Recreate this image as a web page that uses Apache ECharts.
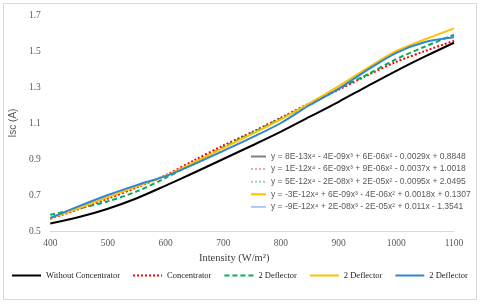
<!DOCTYPE html>
<html>
<head>
<meta charset="utf-8">
<script src="https://cdn.jsdelivr.net/npm/echarts@6/dist/echarts.min.js"></script>
<style>html,body{margin:0;padding:0;background:#fff}#c{width:480px;height:304px}</style>
</head>
<body>
<div id="c"></div>
<script>
// Intensity (W/m²)
const intensity = [400, 450, 500, 550, 600, 650, 700, 750, 800, 850, 900, 950, 1000, 1050, 1100];
// Isc (A)
const withoutConcentrator = [0.542, 0.578, 0.624, 0.682, 0.752, 0.825, 0.900, 0.975, 1.052, 1.135, 1.218, 1.305, 1.390, 1.470, 1.546];
const concentrator        = [0.568, 0.622, 0.680, 0.742, 0.810, 0.894, 0.975, 1.050, 1.130, 1.210, 1.285, 1.365, 1.440, 1.500, 1.557];
const deflectorA          = [0.590, 0.625, 0.665, 0.720, 0.795, 0.880, 0.965, 1.045, 1.125, 1.205, 1.290, 1.370, 1.455, 1.525, 1.590];
const deflectorB          = [0.570, 0.628, 0.688, 0.748, 0.806, 0.882, 0.960, 1.040, 1.120, 1.210, 1.305, 1.405, 1.500, 1.565, 1.626];
const deflectorC          = [0.572, 0.638, 0.700, 0.755, 0.805, 0.872, 0.945, 1.020, 1.100, 1.200, 1.290, 1.395, 1.490, 1.550, 1.576];

// y tick labels shown (every 0.2 from 0.5)
const yTickLabels = ['0.5', '0.7', '0.9', '1.1', '1.3', '1.5', '1.7'];

const seriesLabels = ['Without Concentrator', 'Concentrator', '2 Deflector', '2 Deflector', '2 Deflector'];
const equationLabels = [
  'y = 8E-13x\u2074 - 4E-09x\u00b3 + 6E-06x\u00b2 - 0.0029x + 0.8848',
  'y = 1E-12x\u2074 - 6E-09x\u00b3 + 9E-06x\u00b2 - 0.0037x + 1.0018',
  'y = 5E-12x\u2074 - 2E-08x\u00b3 + 2E-05x\u00b2 - 0.0095x + 2.0495',
  'y = -3E-12x\u2074 + 6E-09x\u00b3 - 4E-06x\u00b2 + 0.0018x + 0.1307',
  'y = -9E-12x\u2074 + 2E-08x\u00b3 - 2E-05x\u00b2 + 0.011x - 1.3541'
];
const xTitle = 'Intensity (W/m\u00b2)';
const yTitle = 'Isc (A)';

const valueSets = [withoutConcentrator, concentrator, deflectorA, deflectorB, deflectorC];
const lineColors = ['#000000', '#ff0000', '#00b050', '#ffc000', '#2f85d5'];
const lineTypes = ['solid', 'dotted', [5, 3], 'solid', 'solid'];
const trendColors = ['#808080', '#f4a3a3', '#8fd9a8', '#ffc000', '#a8cbeb'];
const trendTypes = ['solid', 'dotted', 'dotted', 'solid', 'solid'];

const mainIds = valueSets.map((_, i) => 's' + i);
const eqIds = equationLabels.map((_, i) => 'e' + i);

const series = [];
valueSets.forEach((vals, i) => {
  series.push({
    name: mainIds[i], type: 'line', symbol: 'none', smooth: 0.3,
    data: intensity.map((x, k) => [x, vals[k]]),
    lineStyle: { color: lineColors[i], width: 2, type: lineTypes[i] },
    itemStyle: { color: lineColors[i] },
    z: 2 + i
  });
});
equationLabels.forEach((e, i) => {
  series.push({
    name: eqIds[i], type: 'line', symbol: 'none', data: [],
    lineStyle: { color: trendColors[i], width: 1.5, type: trendTypes[i] },
    itemStyle: { color: trendColors[i] }
  });
});

const chart = echarts.init(document.getElementById('c'), null, { renderer: 'canvas' });
chart.setOption({
  animation: false,
  backgroundColor: '#ffffff',
  graphic: [{
    type: 'rect', shape: { x: 3.5, y: 3.5, width: 473, height: 296 },
    style: { fill: 'none', stroke: '#d9d9d9', lineWidth: 1 }, silent: true
  }],
  grid: { left: 46.7, right: 26, top: 15, bottom: 73 },
  xAxis: {
    type: 'value', min: 400, max: 1100, interval: 100,
    name: xTitle, nameLocation: 'middle', nameGap: 20,
    nameTextStyle: { fontFamily: 'Liberation Serif', fontSize: 10.5, color: '#404040', padding: [0, 36, 0, 0] },
    axisLine: { show: true, lineStyle: { color: '#d9d9d9', width: 1 } },
    axisTick: { show: false },
    splitLine: { show: false },
    axisLabel: { fontFamily: 'Liberation Serif', fontSize: 9.5, color: '#595959', margin: 7, formatter: v => String(v) }
  },
  yAxis: {
    type: 'value', min: 0.5, max: 1.7, interval: 0.1,
    name: yTitle, nameLocation: 'middle', nameGap: 21,
    nameTextStyle: { fontFamily: 'Liberation Sans', fontSize: 10, color: '#595959' },
    axisLine: { show: false }, axisTick: { show: false }, splitLine: { show: false },
    axisLabel: {
      fontFamily: 'Liberation Serif', fontSize: 9.5, color: '#595959', margin: 9.5,
      formatter: v => { const s = v.toFixed(1); return yTickLabels.indexOf(s) >= 0 ? s : ''; }
    }
  },
  legend: [
    {
      data: mainIds, orient: 'horizontal', left: 11, right: 0, top: 271, padding: 0,
      itemWidth: 29, itemHeight: 10, itemGap: 12,
      itemStyle: { opacity: 0 },
      formatter: n => seriesLabels[mainIds.indexOf(n)],
      textStyle: { fontFamily: 'Liberation Serif', fontSize: 8.5, color: '#222222' },
      selectedMode: false
    },
    {
      data: eqIds, orient: 'vertical', left: 250, top: 152, padding: 0,
      itemWidth: 15, itemHeight: 8, itemGap: 3.6,
      itemStyle: { opacity: 0 },
      formatter: n => equationLabels[eqIds.indexOf(n)],
      textStyle: { fontFamily: 'Liberation Sans', fontSize: 8.5, color: '#595959' },
      selectedMode: false
    }
  ],
  series: series
});
</script>
</body>
</html>
